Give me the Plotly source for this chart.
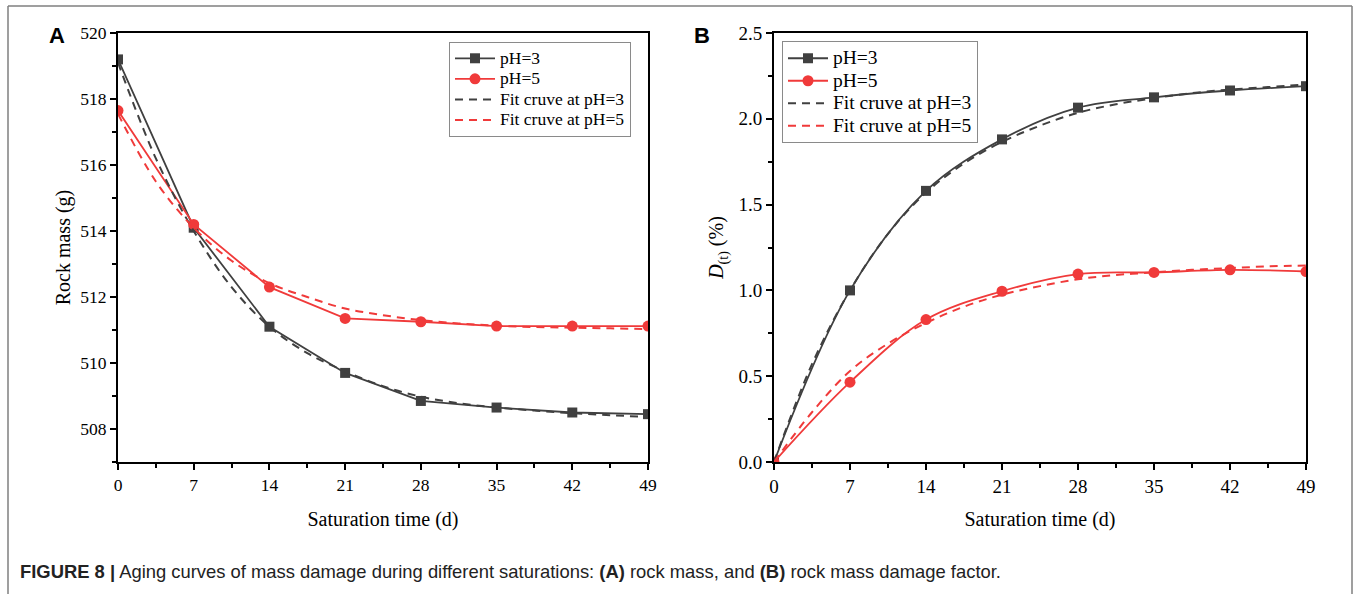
import plotly.graph_objects as go

# ---------------- data ----------------
days = [0, 7, 14, 21, 28, 35, 42, 49]
fit_days = [0, 3.5, 7, 10.5, 14, 17.5, 21, 24.5, 28, 31.5, 35, 38.5, 42, 45.5, 49]

mass_ph3 = [519.2, 514.1, 511.1, 509.7, 508.85, 508.65, 508.5, 508.45]
mass_ph5 = [517.65, 514.2, 512.3, 511.35, 511.25, 511.12, 511.12, 511.12]
mass_fit_ph3 = [519.1, 516.2, 514.0, 512.3, 511.1, 510.3, 509.75, 509.3,
                508.98, 508.78, 508.65, 508.56, 508.48, 508.42, 508.36]
mass_fit_ph5 = [517.55, 515.5, 514.1, 513.1, 512.42, 512.0, 511.65, 511.45,
                511.3, 511.2, 511.13, 511.09, 511.07, 511.05, 511.03]

dmg_ph3 = [0.0, 1.0, 1.58, 1.88, 2.065, 2.125, 2.165, 2.19]
dmg_ph5 = [0.0, 0.465, 0.83, 0.995, 1.095, 1.105, 1.12, 1.11]
dmg_fit_ph3 = [0.0, 0.57, 1.0, 1.33, 1.57, 1.74, 1.865, 1.96,
               2.035, 2.085, 2.12, 2.15, 2.17, 2.185, 2.2]
dmg_fit_ph5 = [0.0, 0.29, 0.53, 0.69, 0.81, 0.905, 0.975, 1.025,
               1.065, 1.09, 1.105, 1.12, 1.13, 1.14, 1.145]

series_names = ["pH=3", "pH=5", "Fit cruve at pH=3", "Fit cruve at pH=5"]
x_tick_vals = [0, 7, 14, 21, 28, 35, 42, 49]
mass_tick_vals = [508, 510, 512, 514, 516, 518, 520]
dmg_tick_vals = [0.0, 0.5, 1.0, 1.5, 2.0, 2.5]
dmg_tick_text = ["0.0", "0.5", "1.0", "1.5", "2.0", "2.5"]

x_title = "Saturation time (d)"
mass_title = "Rock mass (g)"
dmg_title = "<i>D</i><sub>(t)</sub> (%)"
caption = ("<b>FIGURE 8 |</b> Aging curves of mass damage during different saturations: "
           "<b>(A)</b> rock mass, and <b>(B)</b> rock mass damage factor.")

# ---------------- style ----------------
W, H = 1354, 594
DARK = "#404040"
RED = "#f03a3a"
SERIF = "Liberation Serif"
SANS = "Liberation Sans"


def px(x):
    return x / W


def py(y):
    return 1 - y / H


def legname(name, size):
    return '<span style="font-size:%spx">%s</span>' % (size, name)


fig = go.Figure()

# Panel A
LA = 17.5
fig.add_trace(go.Scatter(x=days, y=mass_ph3, name=legname(series_names[0], LA),
                         mode="lines+markers", line=dict(color=DARK, width=1.8),
                         marker=dict(symbol="square", size=10, color=DARK),
                         xaxis="x", yaxis="y", legend="legend"))
fig.add_trace(go.Scatter(x=days, y=mass_ph5, name=legname(series_names[1], LA),
                         mode="lines+markers", line=dict(color=RED, width=1.8),
                         marker=dict(symbol="circle", size=11, color=RED),
                         xaxis="x", yaxis="y", legend="legend"))
fig.add_trace(go.Scatter(x=fit_days, y=mass_fit_ph3, name=legname(series_names[2], LA),
                         mode="lines",
                         line=dict(color=DARK, width=2, dash="8px,6px", shape="spline"),
                         xaxis="x", yaxis="y", legend="legend"))
fig.add_trace(go.Scatter(x=fit_days, y=mass_fit_ph5, name=legname(series_names[3], LA),
                         mode="lines",
                         line=dict(color=RED, width=2, dash="8px,6px", shape="spline"),
                         xaxis="x", yaxis="y", legend="legend"))

# Panel B
LB = 19.5
fig.add_trace(go.Scatter(x=days, y=dmg_ph3, name=legname(series_names[0], LB),
                         mode="lines+markers",
                         line=dict(color=DARK, width=1.8, shape="spline"),
                         marker=dict(symbol="square", size=10, color=DARK),
                         xaxis="x2", yaxis="y2", legend="legend2"))
fig.add_trace(go.Scatter(x=days, y=dmg_ph5, name=legname(series_names[1], LB),
                         mode="lines+markers",
                         line=dict(color=RED, width=1.8, shape="spline"),
                         marker=dict(symbol="circle", size=11, color=RED),
                         xaxis="x2", yaxis="y2", legend="legend2"))
fig.add_trace(go.Scatter(x=fit_days, y=dmg_fit_ph3, name=legname(series_names[2], LB),
                         mode="lines",
                         line=dict(color=DARK, width=2, dash="8px,6px", shape="spline"),
                         xaxis="x2", yaxis="y2", legend="legend2"))
fig.add_trace(go.Scatter(x=fit_days, y=dmg_fit_ph5, name=legname(series_names[3], LB),
                         mode="lines",
                         line=dict(color=RED, width=2, dash="8px,6px", shape="spline"),
                         xaxis="x2", yaxis="y2", legend="legend2"))

axis_common = dict(showgrid=False, zeroline=False, showline=True, linecolor="black",
                   linewidth=2, mirror=True, ticks="outside", ticklen=6, tickwidth=1.5,
                   tickcolor="black", automargin=False)

x_minor = dict(ticks="outside", ticklen=4, tickwidth=1.5, tickcolor="black", dtick=3.5,
               showgrid=False)
font_a = dict(family=SERIF, size=17.5, color="black")
font_b = dict(family=SERIF, size=19, color="black")

fig.update_layout(
    width=W, height=H, margin=dict(l=0, r=0, t=0, b=0, autoexpand=False),
    paper_bgcolor="white", plot_bgcolor="white",
    xaxis=dict(axis_common, domain=[px(118), px(648)], range=[0, 49], tickfont=font_a,
               tickvals=x_tick_vals, minor=x_minor, anchor="y",
               title=dict(text=x_title, font=dict(family=SERIF, size=20, color="black"),
                          standoff=18)),
    yaxis=dict(axis_common, domain=[py(462), py(33)], range=[507, 520], tickfont=font_a,
               tickvals=mass_tick_vals, anchor="x",
               minor=dict(ticks="outside", ticklen=4, tickwidth=1.5, tickcolor="black",
                          dtick=1, showgrid=False),
               title=dict(text=mass_title, font=dict(family=SERIF, size=20, color="black"),
                          standoff=4)),
    xaxis2=dict(axis_common, domain=[px(774), px(1306)], range=[0, 49], tickfont=font_b,
                tickvals=x_tick_vals, minor=x_minor, anchor="y2",
                title=dict(text=x_title, font=dict(family=SERIF, size=20, color="black"),
                           standoff=16)),
    yaxis2=dict(axis_common, domain=[py(462), py(33)], range=[0, 2.5], tickfont=font_b,
                tickvals=dmg_tick_vals, ticktext=dmg_tick_text, anchor="x2",
                minor=dict(ticks="outside", ticklen=4, tickwidth=1.5, tickcolor="black",
                           dtick=0.25, showgrid=False),
                title=dict(text=dmg_title, font=dict(family=SERIF, size=20, color="black"),
                           standoff=9)),
    legend=dict(x=px(449), y=py(42), xanchor="left", yanchor="top",
                bordercolor="#8a8a8a", borderwidth=1, bgcolor="white",
                font=dict(family=SERIF, size=13.5, color="black"), tracegroupgap=0,
                itemwidth=40),
    legend2=dict(x=px(782), y=py(41), xanchor="left", yanchor="top",
                 bordercolor="#8a8a8a", borderwidth=1, bgcolor="white",
                 font=dict(family=SERIF, size=15, color="black"), tracegroupgap=0,
                 itemwidth=40),
    showlegend=True,
)

# outer figure frame (gray)
frame = dict(type="line", xref="paper", yref="paper", line=dict(color="#7f7f7f", width=1.5))
fig.add_shape(frame, x0=px(8), x1=px(1352), y0=py(6), y1=py(6))
fig.add_shape(frame, x0=px(8), x1=px(8), y0=py(6), y1=0)
fig.add_shape(frame, x0=px(1352), x1=px(1352), y0=py(6), y1=0)

# panel letters
fig.add_annotation(text="<b>A</b>", x=px(57), y=py(35), xref="paper", yref="paper",
                   xanchor="center", yanchor="middle",
                   showarrow=False, font=dict(family=SANS, size=22, color="black"))
fig.add_annotation(text="<b>B</b>", x=px(702), y=py(35), xref="paper", yref="paper",
                   xanchor="center", yanchor="middle",
                   showarrow=False, font=dict(family=SANS, size=22, color="black"))

# caption
fig.add_annotation(text=caption, x=px(18), y=py(571), xref="paper", yref="paper",
                   xanchor="left", yanchor="middle", showarrow=False,
                   font=dict(family=SANS, size=18.4, color="#222222"))

fig.write_html("out.html", config={"displayModeBar": False},
               post_script="document.body.style.margin='0';")
